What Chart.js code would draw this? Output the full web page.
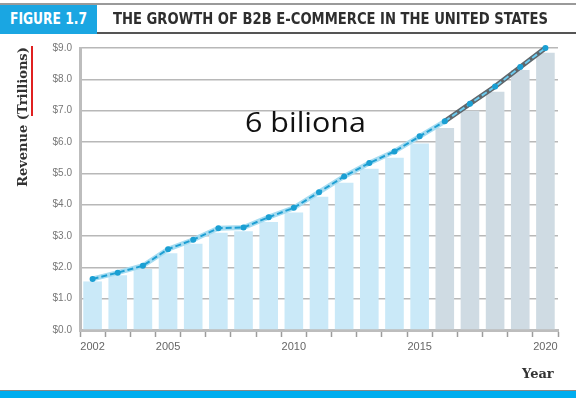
<!DOCTYPE html>
<html>
<head>
<meta charset="utf-8">
<script src="https://cdn.jsdelivr.net/npm/chart.js@4/dist/chart.umd.min.js"></script>
<style>
  html, body { margin: 0; padding: 0; background: #fff; }
  #wrap { position: relative; width: 576px; height: 398px; overflow: hidden; }
  #chart { position: absolute; left: 0; top: 0; }
  .topline { position: absolute; left: 0; top: 3px; width: 576px; height: 2px; background: #9a9a9a; }
  .figbox { position: absolute; left: 0; top: 5px; width: 97px; height: 29px; background: #1aa6e2; }
  .figlabel { position: absolute; left: 10px; top: 10px; color: #fff; font: bold 15px "DejaVu Sans Condensed", "DejaVu Sans", sans-serif; white-space: nowrap; }
  .title { position: absolute; left: 113px; top: 10px; color: #2e2e2e; font: bold 15px "DejaVu Sans Condensed", "DejaVu Sans", sans-serif; white-space: nowrap; }
  .titleline { position: absolute; left: 97px; top: 32px; width: 479px; height: 2px; background: #555; }
  .ytitle { position: absolute; left: 22px; top: 117px; transform: translate(-50%, -50%) rotate(-90deg); font: bold 13px "DejaVu Serif", serif; color: #333; white-space: nowrap; }
  .redmark { position: absolute; left: 31px; top: 46px; width: 1.5px; height: 70px; background: #e02020; }
  .xtitle { position: absolute; left: 522px; top: 366px; font: bold 13px "DejaVu Serif", serif; color: #333; }
  .note { position: absolute; left: 245px; top: 103px; font: 27px "Open Sans", "Noto Sans", sans-serif; color: #111; white-space: nowrap; }
  .botline { position: absolute; left: 0; top: 390px; width: 576px; height: 1px; background: #888; }
  .botbar { position: absolute; left: 0; top: 391px; width: 576px; height: 7px; background: #00adef; }
</style>
</head>
<body>
<div id="wrap">
  <canvas id="chart" width="576" height="398"></canvas>
  <div class="topline"></div>
  <div class="figbox"></div>
  <div class="figlabel" id="figlabel">FIGURE 1.7</div>
  <div class="title" id="title">THE GROWTH OF B2B E-COMMERCE IN THE UNITED STATES</div>
  <div class="titleline"></div>
  <div class="ytitle">Revenue (Trillions)</div>
  <div class="redmark"></div>
  <div class="xtitle">Year</div>
  <div class="note" id="note">6 biliona</div>
  <div class="botline"></div>
  <div class="botbar"></div>
</div>
<script>
// Data
const years = ['2002', '2003', '2004', '2005', '2006', '2007', '2008', '2009', '2010', '2011',
               '2012', '2013', '2014', '2015', '2016', '2017', '2018', '2019', '2020'];
const revenueLine = [1.63, 1.83, 2.05, 2.58, 2.88, 3.25, 3.27, 3.60, 3.90, 4.40,
                     4.90, 5.33, 5.70, 6.18, 6.66, 7.22, 7.77, 8.39, 9.0];
const revenueBars = [1.55, 1.75, 1.95, 2.45, 2.75, 3.1, 3.15, 3.45, 3.75, 4.25,
                     4.7, 5.15, 5.5, 5.95, 6.45, 7.0, 7.6, 8.3, 8.85];
const labeledYears = ['2002', '2005', '2010', '2015', '2020'];
const yTicks = [0, 1, 2, 3, 4, 5, 6, 7, 8, 9];
const firstForecast = 14; // 2016 onwards drawn in grey

// squeeze header texts to the widths they have in the figure
const fitWidth = (id, w) => {
  const el = document.getElementById(id);
  const cur = el.getBoundingClientRect().width;
  el.style.transformOrigin = 'left center';
  el.style.transform = 'scaleX(' + (w / cur) + ')';
};
fitWidth('title', 435);
fitWidth('figlabel', 77);
fitWidth('note', 121);

const isForecast = (i) => i >= firstForecast;

new Chart(document.getElementById('chart'), {
  type: 'bar',
  data: {
    labels: years,
    datasets: [
      {
        // wide underlay of the double line
        type: 'line',
        data: revenueLine,
        borderWidth: 5,
        borderColor: '#a6dcf1',
        pointRadius: 0,
        tension: 0,
        clip: false,
        segment: {
          borderColor: ctx => isForecast(ctx.p0DataIndex) ? '#5f676c' : '#a6dcf1'
        },
        order: 2
      },
      {
        type: 'line',
        data: revenueLine,
        borderWidth: 2,
        borderColor: '#1e9fd3',
        borderDash: [6, 3],
        pointRadius: 3,
        pointBackgroundColor: '#1a9fd3',
        pointBorderWidth: 0,
        tension: 0,
        clip: false,
        segment: {
          borderColor: ctx => isForecast(ctx.p0DataIndex) ? '#6ccbef' : '#1e9fd3'
        },
        order: 1
      },
      {
        data: revenueBars,
        backgroundColor: revenueBars.map((v, i) => isForecast(i) ? '#cfdbe3' : '#cae9f8'),
        borderWidth: 0,
        barPercentage: 0.74,
        categoryPercentage: 1,
        order: 3
      }
    ]
  },
  options: {
    responsive: false,
    animation: false,
    events: [],
    layout: { padding: { top: 48, right: 18, left: 0, bottom: 0 } },
    plugins: { legend: { display: false }, tooltip: { enabled: false } },
    scales: {
      x: {
        offset: true,
        afterFit: (scale) => { scale.height = 68; },
        grid: {
          drawOnChartArea: false,
          drawTicks: true,
          tickLength: 7,
          tickWidth: 1.5,
          tickColor: '#9c9c9c'
        },
        border: { color: '#bdbdbd', width: 3 },
        ticks: {
          autoSkip: false,
          maxRotation: 0,
          padding: 3,
          color: '#666',
          font: { family: 'Liberation Sans Narrow, Liberation Sans, sans-serif', size: 11 },
          callback: function (v, i) {
            const y = years[i];
            return labeledYears.includes(y) ? y : '';
          }
        }
      },
      y: {
        min: 0,
        max: 9,
        afterFit: (scale) => { scale.width = 80; },
        afterBuildTicks: (scale) => { scale.ticks = yTicks.map(v => ({ value: v })); },
        grid: { color: '#b8b8b8', lineWidth: 1.5, drawTicks: false },
        border: { color: '#bdbdbd', width: 3 },
        ticks: {
          padding: 8,
          color: '#777',
          font: { family: 'Liberation Sans Narrow, Liberation Sans, sans-serif', size: 10 },
          callback: v => '$' + v.toFixed(1)
        }
      }
    }
  }
});
</script>
</body>
</html>
